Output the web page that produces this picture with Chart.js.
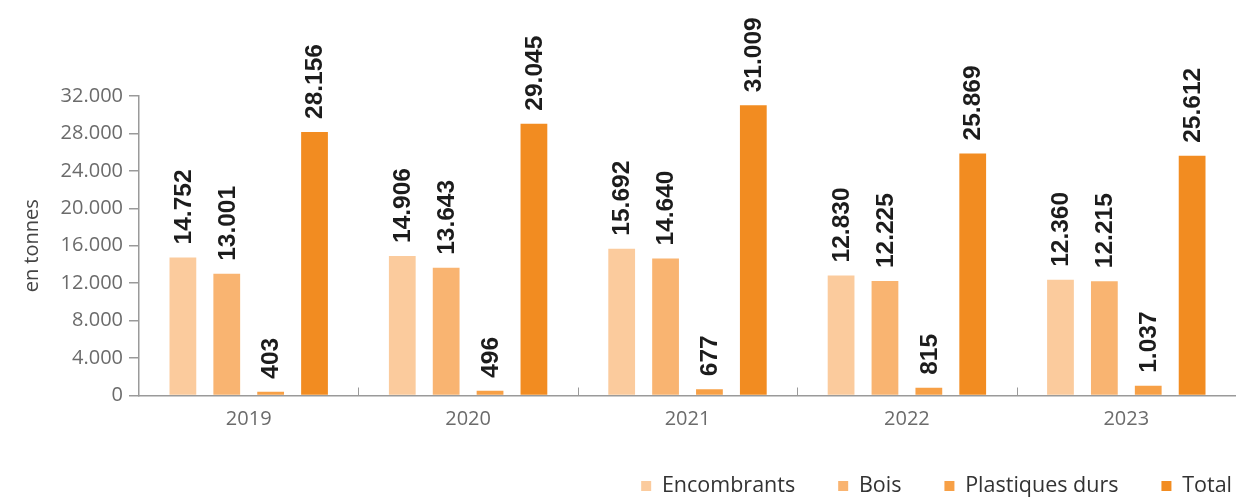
<!DOCTYPE html>
<html>
<head>
<meta charset="utf-8">
<script src="https://cdn.jsdelivr.net/npm/chart.js@4/dist/chart.umd.min.js"></script>
<style>
  html, body { margin: 0; padding: 0; background: #fff; }
  #wrap { width: 1236px; height: 497px; position: relative; }
</style>
</head>
<body>
<div id="wrap"><canvas id="c"></canvas></div>
<script>
const categories = ['2019', '2020', '2021', '2022', '2023'];
const encombrants = [14752, 14906, 15692, 12830, 12360];
const bois = [13001, 13643, 14640, 12225, 12215];
const plastiques = [403, 496, 677, 815, 1037];
const total = [28156, 29045, 31009, 25869, 25612];
const seriesNames = ['Encombrants', 'Bois', 'Plastiques durs', 'Total'];
const seriesColors = ['#FBCB9D', '#F9B471', '#F7A046', '#F28C21'];
const yTicksMax = 32000;
const yTickStep = 4000;
const yTitle = 'en tonnes';

function fmt(v) { return String(v).replace(/\B(?=(\d{3})+(?!\d))/g, '.'); }

const valueLabels = {
  id: 'valueLabels',
  afterDatasetsDraw(chart) {
    const ctx = chart.ctx;
    ctx.save();
    ctx.font = 'bold 24.5px "Liberation Sans", Arial, sans-serif';
    ctx.fillStyle = '#1c1c1c';
    ctx.textAlign = 'left';
    ctx.textBaseline = 'middle';
    chart.data.datasets.forEach((ds, di) => {
      const meta = chart.getDatasetMeta(di);
      meta.data.forEach((bar, i) => {
        ctx.save();
        ctx.translate(bar.x, bar.y - 13);
        ctx.rotate(-Math.PI / 2);
        ctx.fillText(fmt(ds.data[i]), 0, 1);
        ctx.restore();
      });
    });
    ctx.restore();
  }
};

const catTicks = {
  id: 'catTicks',
  afterDraw(chart) {
    const x = chart.scales.x;
    const ctx = chart.ctx;
    const bottom = chart.chartArea.bottom;
    ctx.save();
    ctx.strokeStyle = '#9a9a9a';
    ctx.lineWidth = 1;
    for (let i = 1; i < categories.length; i++) {
      const px = Math.round((x.getPixelForValue(i - 1) + x.getPixelForValue(i)) / 2) + 0.5;
      ctx.beginPath();
      ctx.moveTo(px, bottom - 8);
      ctx.lineTo(px, bottom);
      ctx.stroke();
    }
    ctx.restore();
  }
};

const legendShift = {
  id: 'legendShift',
  afterLayout(chart) {
    const lg = chart.legend;
    const pad = lg.options.labels.padding;
    const fs = lg.options.labels.font.size;
    const dx = (1232 + pad) - lg.right;
    lg.right += dx;
    lg.left += dx;
    const dy = (486 - pad - fs / 2) - lg.top;
    lg.top += dy;
    lg.bottom += dy;
  }
};

new Chart(document.getElementById('c'), {
  type: 'bar',
  data: {
    labels: categories,
    datasets: [
      { label: seriesNames[0], data: encombrants, backgroundColor: seriesColors[0] },
      { label: seriesNames[1], data: bois, backgroundColor: seriesColors[1] },
      { label: seriesNames[2], data: plastiques, backgroundColor: seriesColors[2] },
      { label: seriesNames[3], data: total, backgroundColor: seriesColors[3] }
    ]
  },
  options: {
    responsive: true,
    maintainAspectRatio: false,
    animation: false,
    devicePixelRatio: 1,
    datasets: { bar: { categoryPercentage: 0.8, barPercentage: 0.61 } },
    layout: { padding: { top: 96, right: -4, left: 0, bottom: -7 } },
    plugins: {
      tooltip: { enabled: false },
      legend: {
        position: 'bottom',
        align: 'end',
        labels: {
          boxWidth: 10,
          boxHeight: 10,
          padding: 43,
          color: '#333333',
          font: { family: '"Open Sans", sans-serif', size: 21.5 }
        }
      }
    },
    scales: {
      x: {
        grid: { display: false },
        border: { display: true, color: '#9a9a9a', width: 1.5 },
        ticks: { color: '#6b6b6b', padding: 4, font: { family: '"Open Sans", sans-serif', size: 20 } },
        afterFit(scale) { scale.height = 34; }
      },
      y: {
        min: 0,
        max: yTicksMax,
        ticks: {
          stepSize: yTickStep,
          color: '#6b6b6b',
          padding: 6,
          font: { family: '"Open Sans", sans-serif', size: 20 },
          callback: (v) => fmt(v)
        },
        grid: { drawOnChartArea: false, drawTicks: true, tickLength: 10, color: '#9a9a9a', lineWidth: 1.5 },
        border: { display: true, color: '#9a9a9a', width: 1.5 },
        title: {
          display: true,
          text: yTitle,
          color: '#444444',
          padding: { top: 20, bottom: 0 },
          font: { family: '"Open Sans", sans-serif', size: 20 }
        },
        afterFit(scale) { scale.width = 139; }
      }
    }
  },
  plugins: [valueLabels, catTicks, legendShift]
});
</script>
</body>
</html>
